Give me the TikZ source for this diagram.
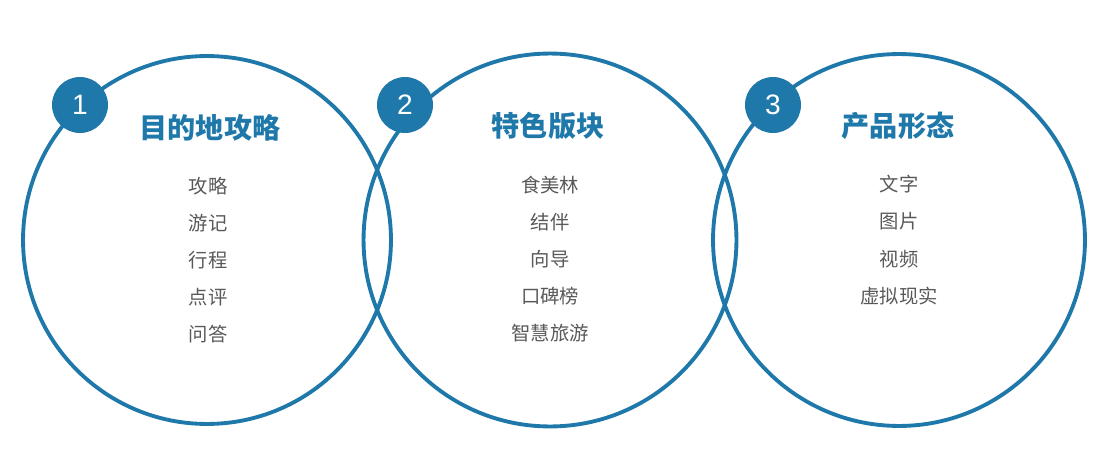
\documentclass[tikz,border=0pt]{standalone}
\usepackage{fontspec}
\setmainfont{Liberation Sans}
\newfontfamily\cjk{Noto Sans CJK SC}
\usetikzlibrary{positioning}
\definecolor{ringblue}{HTML}{1F78AA}
\definecolor{itemgray}{HTML}{595959}
\tikzset{
  ring/.style = {draw = ringblue, line width = 2.2pt, circle, minimum size = 10.5cm},
  badge/.style = {fill = ringblue, circle, minimum size = 1.12cm, inner sep = 0pt,
    text = white, font = \fontsize{16}{18}\selectfont},
  heading/.style = {text = ringblue, font = \cjk\bfseries\fontsize{16}{18}\selectfont},
  entry/.style = {text = itemgray, font = \cjk\fontsize{11}{13}\selectfont}
}
\begin{document}
\begin{tikzpicture}[x = 0.02cm, y = -0.02cm]
    \useasboundingbox (0,0) rectangle (1105,453);

    % circles
    \node[ring, minimum size = 7.36cm] (ring-1) at (207,240) {};
    \node[ring, minimum size = 7.46cm] (ring-2) at (550,240) {};
    \node[ring, minimum size = 7.44cm] (ring-3) at (899,240) {};

    % badges
    \node[badge] (badge-1) at (80,105) {1};
    \node[badge] (badge-2) at (405,105) {2};
    \node[badge] (badge-3) at (773,105) {3};

    % headings
    \node[heading] (head-1) at (210,128) {目的地攻略};
    \node[heading] (head-2) at (548,126) {特色版块};
    \node[heading] (head-3) at (898,126) {产品形态};

    % entries
    \foreach \t [count = \i] in {攻略, 游记, 行程, 点评, 问答}{
      \node[entry] (item-1-\i) at (208, 186 + 37*\i - 37) {\t};
    }
    \foreach \t [count = \i] in {食美林, 结伴, 向导, 口碑榜, 智慧旅游}{
      \node[entry] (item-2-\i) at (550, 185 + 37*\i - 37) {\t};
    }
    \foreach \t [count = \i] in {文字, 图片, 视频, 虚拟现实}{
      \node[entry] (item-3-\i) at (899, 184 + 37.5*\i - 37.5) {\t};
    }
\end{tikzpicture}
\end{document}
